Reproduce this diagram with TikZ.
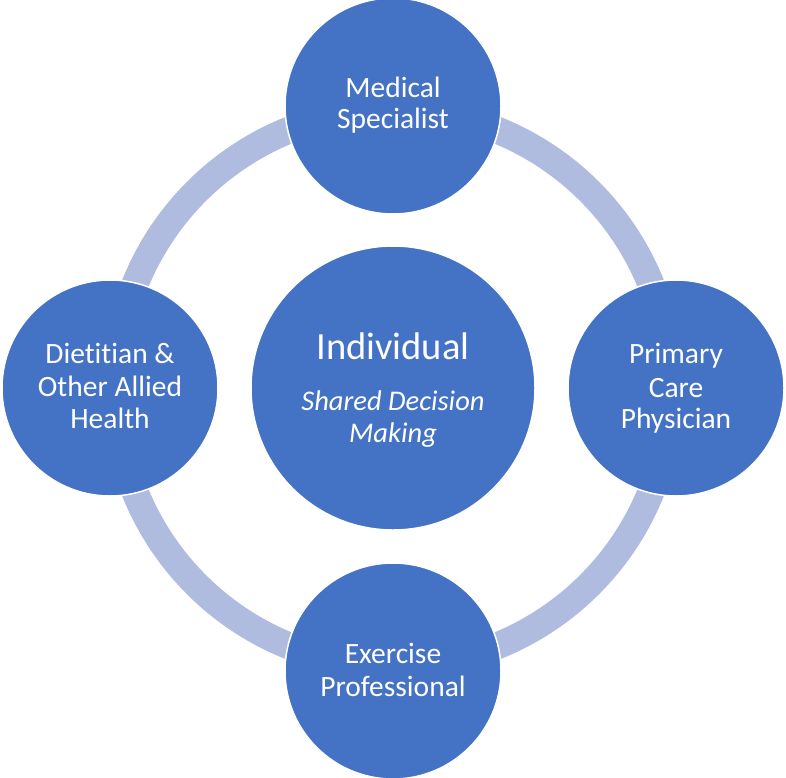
\documentclass[tikz,border=0pt]{standalone}
\usepackage{fontspec}
\setmainfont{Carlito}[Ligatures={NoCommon}]
\definecolor{cdark}{HTML}{4472C4}
\definecolor{cring}{RGB}{175,188,224}
\begin{document}
\begin{tikzpicture}[x=1pt,y=-1pt,
  bubble/.style={circle,fill=cdark,draw=white,line width=1.5pt,minimum size=216pt,inner sep=0pt},
  hub/.style={circle,fill=cdark,draw=white,line width=1.5pt,minimum size=284pt,inner sep=0pt},
  lbl/.style={text=white,anchor=base,inner sep=0pt,font=\fontsize{29.5}{33}\selectfont},
  biglbl/.style={text=white,anchor=base,inner sep=0pt,font=\fontsize{38.5}{42}\selectfont},
  itlbl/.style={text=white,anchor=base,inner sep=0pt,font=\fontsize{28.5}{32}\selectfont\itshape}]
\useasboundingbox (0,0) rectangle (786,777);
\coordinate (c) at (393,388);
\draw[cring,line width=27pt] (c) circle[radius=278];
\node[bubble] (top) at (393,106) {};
\node[bubble] (left) at (110,388) {};
\node[bubble] (right) at (676,388) {};
\node[bubble] (bottom) at (393,671) {};
\node[hub] (hubc) at (393,388) {};
% top
\node[lbl] (t1) at (393,97) {Medical};
\node[lbl] (t2) at (393,128) {Specialist};
% left
\node[lbl] (l1) at (110,363) {Dietitian \&};
\node[lbl] (l2) at (110,396) {Other Allied};
\node[lbl] (l3) at (110,428) {Health};
% right
\node[lbl] (r1) at (676,363) {Primary};
\node[lbl] (r2) at (676,397) {Care};
\node[lbl] (r3) at (676,428) {Physician};
% bottom
\node[lbl] (b1) at (393,663) {Exercise};
\node[lbl] (b2) at (393,696) {Professional};
% center
\node[biglbl] (c1) at (393,359) {Individual};
\node[itlbl] (c2) at (393,410) {Shared Decision};
\node[itlbl] (c3) at (393,442) {Making};
\end{tikzpicture}
\end{document}
